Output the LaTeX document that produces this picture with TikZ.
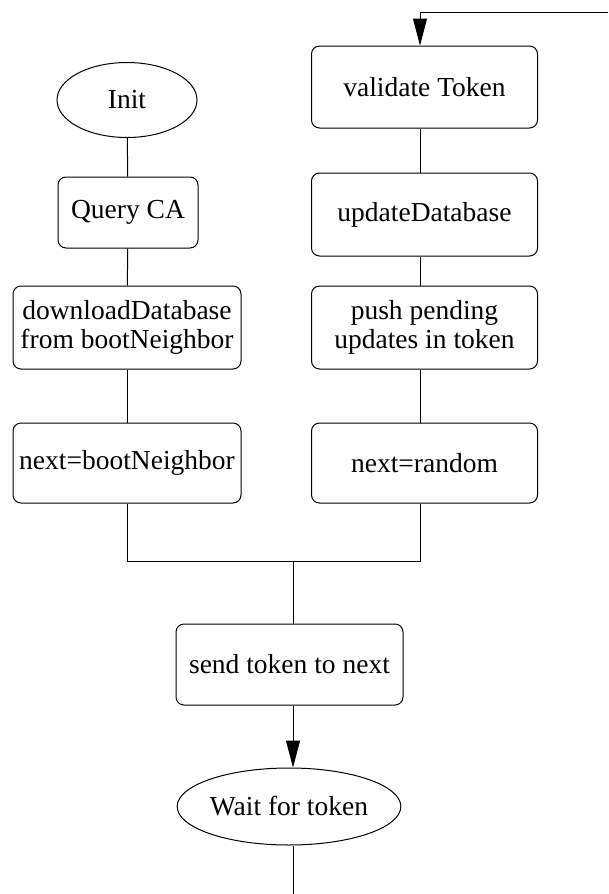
\documentclass[tikz,border=0pt]{standalone}
\usepackage{fontspec}
\setmainfont{Liberation Serif}
\usetikzlibrary{shapes.geometric,arrows.meta}
\begin{document}
\begin{tikzpicture}[x=1pt,y=-1pt,
  line width=1pt,
  every node/.style={font=\fontsize{27.5}{29}\selectfont, inner sep=0pt, align=center},
  stepbox/.style={draw, rounded corners=8pt, minimum width=#1},
  stepbox/.default=226pt,
  oval/.style={draw, ellipse},
  arr/.style={-{Triangle[length=27pt,width=14pt]}}]
\useasboundingbox (0,0) rectangle (608,894);
% left column
\node[oval, minimum width=140pt, minimum height=75pt] (init) at (127,100) {Init};
\node[stepbox=140pt, minimum height=71pt] (qca) at (128,212.5) {Query CA};
\node[stepbox=228pt, minimum height=83pt] (dl) at (127,327.5) {downloadDatabase\\from bootNeighbor};
\node[stepbox=228pt, minimum height=80pt] (nb) at (127,463) {next=bootNeighbor};
% right column
\node[stepbox, minimum height=82pt] (val) at (424.5,87) {validate Token};
\node[stepbox, minimum height=83pt] (upd) at (424.5,214.5) {updateDatabase};
\node[stepbox, minimum height=83pt] (push) at (424.5,327.5) {push pending\\updates in token};
\node[stepbox, minimum height=80pt] (rnd) at (424.5,463) {next=random};
% bottom
\node[stepbox=227pt, minimum height=81pt] (send) at (289.5,664.5) {send token to next};
\node[oval, minimum width=188pt, minimum height=77pt] (wait) at (289,806.5) {Wait for token};
% helper coordinates
\coordinate (rx) at (420,0);
\coordinate (J) at (293,561);
\coordinate (tr) at (608,12);
\coordinate (bot) at (293,894);
% connectors
\draw (init) -- (qca);
\draw (qca) -- (dl);
\draw (dl) -- (nb);
\draw (val.south -| rx) -- (upd.north -| rx);
\draw (upd.south -| rx) -- (push.north -| rx);
\draw (push.south -| rx) -- (rnd.north -| rx);
\draw (nb.south) |- (J);
\draw (rnd.south -| rx) |- (J);
\draw (J) -- (send.north -| J);
\draw[arr] (send.south -| J) -- (wait.north -| J);
\draw (wait.south -| J) -- (bot);
\draw[arr] (tr) -| (val.north -| rx);
\end{tikzpicture}
\end{document}
